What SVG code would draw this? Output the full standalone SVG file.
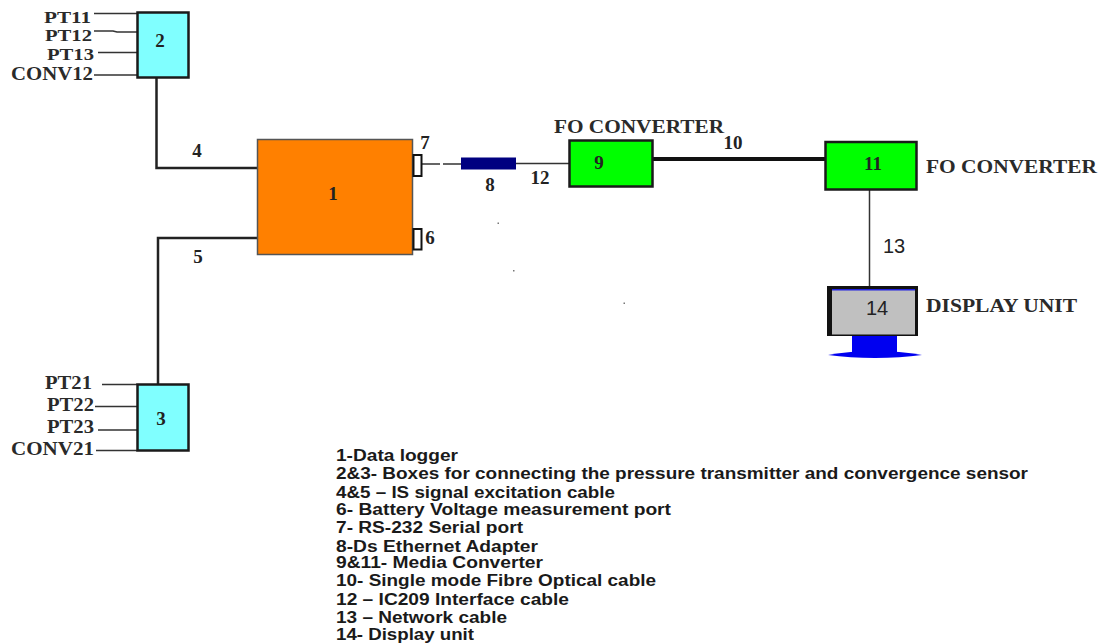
<svg xmlns="http://www.w3.org/2000/svg" width="1100" height="643" viewBox="0 0 1100 643">
<style>
.s{font-family:"Liberation Serif","Times New Roman",serif;font-weight:bold;fill:#2a2a2a;font-size:18px}
.t{font-family:"Liberation Serif","Times New Roman",serif;font-weight:bold;fill:#2a2a2a;font-size:16px}
.n{font-family:"Liberation Serif","Times New Roman",serif;font-weight:bold;fill:#222;font-size:19px;text-anchor:middle}
.a{font-family:"Liberation Sans",Arial,sans-serif;fill:#222;font-size:20px;text-anchor:middle}
.l{font-family:"Liberation Sans",Arial,sans-serif;fill:#1a1a1a;font-size:16px;font-weight:bold}
.w{fill:none;stroke:#333;stroke-width:1.5}
.c{fill:none;stroke:#222;stroke-width:2.5}
.b{stroke:#1a1a1a;stroke-width:2.5}
</style>
<g id="connectors">
<path class="w" d="M94 13.500H137M94 31H113L117 32H137M98 52.500H137M94 75H137"/>
<path class="w" d="M102 384.500H137M95 406.500H139M98 430H139M96 450.500H137"/>
<path class="c" d="M156.500 78V168H259"/>
<path class="c" d="M158 388V238H257"/>
<path class="w" d="M421 164H440M443 164H461M515 163.500H571"/>
<path d="M653 159H826" fill="none" stroke="#111" stroke-width="4"/>
<path class="w" d="M869.500 189V286"/>
</g>
<g id="node-2"><rect class="b" x="137.500" y="12.500" width="51" height="65" fill="#80ffff"/><text class="n" x="160" y="47">2</text></g>
<g id="node-3"><rect class="b" x="137.500" y="384.500" width="51" height="66" fill="#80ffff"/><text class="n" x="161" y="425">3</text></g>
<g id="node-1"><rect x="257.500" y="139.500" width="155" height="115" fill="#ff8000" stroke="#555" stroke-width="1.500"/><text class="n" x="333" y="200">1</text></g>
<g id="node-7"><rect x="413.500" y="155" width="8" height="21" fill="#fff" stroke="#111" stroke-width="2"/><text class="n" x="425" y="149">7</text></g>
<g id="node-6"><rect x="413.500" y="229" width="8" height="20.500" fill="#fff" stroke="#111" stroke-width="2"/><text class="n" x="430" y="244">6</text></g>
<g id="node-8"><rect x="461" y="157.500" width="55" height="12" fill="#000080"/><text class="n" x="490" y="191">8</text></g>
<g id="node-9"><rect class="b" x="569.500" y="140.500" width="83" height="46" fill="#00ff00"/><text class="n" x="599" y="169">9</text></g>
<g id="node-11"><rect class="b" x="825.500" y="142" width="91" height="47.500" fill="#00ff00"/><text class="n" x="873" y="170">11</text></g>
<g id="node-14">
<rect x="827" y="286" width="91" height="50" fill="#111"/>
<rect x="832" y="289.500" width="83" height="45" fill="#c0c0c0"/>
<rect x="832" y="289" width="83" height="1.500" fill="#2020e0"/>
<rect x="852" y="336" width="45" height="16" fill="#0000f0"/>
<path d="M828 355Q850 351 875 351Q900 351 922 355Q900 358 875 358Q850 358 828 355Z" fill="#0000f0"/>
<text class="a" x="877" y="315">14</text>
</g>
<g id="labels">
<text class="t" x="44" y="23" textLength="47" lengthAdjust="spacingAndGlyphs">PT11</text>
<text class="t" x="45" y="41" textLength="47" lengthAdjust="spacingAndGlyphs">PT12</text>
<text class="t" x="47" y="59.500" textLength="47" lengthAdjust="spacingAndGlyphs">PT13</text>
<text class="s" x="11" y="79.500" textLength="82" lengthAdjust="spacingAndGlyphs">CONV12</text>
<text class="s" x="45" y="389" textLength="47" lengthAdjust="spacingAndGlyphs">PT21</text>
<text class="s" x="47" y="411" textLength="47" lengthAdjust="spacingAndGlyphs">PT22</text>
<text class="s" x="47" y="432.500" textLength="47" lengthAdjust="spacingAndGlyphs">PT23</text>
<text class="s" x="11" y="454.500" textLength="83" lengthAdjust="spacingAndGlyphs">CONV21</text>
<text class="n" x="197" y="157">4</text>
<text class="n" x="198" y="263">5</text>
<text class="n" x="540" y="184">12</text>
<text class="n" x="733" y="149">10</text>
<text class="a" x="894" y="253">13</text>
<text class="s" x="554" y="132.500" textLength="170" lengthAdjust="spacingAndGlyphs">FO CONVERTER</text>
<text class="s" x="926" y="173" textLength="171" lengthAdjust="spacingAndGlyphs">FO CONVERTER</text>
<text class="s" x="926" y="311.500" textLength="151" lengthAdjust="spacingAndGlyphs">DISPLAY UNIT</text>
</g>
<g id="legend">
<text class="l" x="336" y="460.500" textLength="122" lengthAdjust="spacingAndGlyphs">1-Data logger</text>
<text class="l" x="336" y="478.500" textLength="692" lengthAdjust="spacingAndGlyphs">2&amp;3- Boxes for connecting the pressure transmitter and convergence sensor</text>
<text class="l" x="336" y="497.500" textLength="279" lengthAdjust="spacingAndGlyphs">4&amp;5 – IS signal excitation cable</text>
<text class="l" x="336" y="514.500" textLength="335" lengthAdjust="spacingAndGlyphs">6- Battery Voltage measurement port</text>
<text class="l" x="336" y="532.500" textLength="187" lengthAdjust="spacingAndGlyphs">7- RS-232 Serial port</text>
<text class="l" x="336" y="551.500" textLength="202" lengthAdjust="spacingAndGlyphs">8-Ds Ethernet Adapter</text>
<text class="l" x="336" y="567.500" textLength="207" lengthAdjust="spacingAndGlyphs">9&amp;11- Media Converter</text>
<text class="l" x="336" y="585.500" textLength="320" lengthAdjust="spacingAndGlyphs">10- Single mode Fibre Optical cable</text>
<text class="l" x="336" y="604.500" textLength="233" lengthAdjust="spacingAndGlyphs">12 – IC209 Interface cable</text>
<text class="l" x="336" y="622.500" textLength="171" lengthAdjust="spacingAndGlyphs">13 – Network cable</text>
<text class="l" x="336" y="639.500" textLength="138" lengthAdjust="spacingAndGlyphs">14- Display unit</text>
</g>
<g id="specks" fill="#777"><rect x="497.500" y="222.500" width="1.500" height="1.500"/><rect x="513" y="270" width="1.500" height="1.500"/><rect x="623.500" y="302.500" width="1.500" height="1.500"/></g>
</svg>
